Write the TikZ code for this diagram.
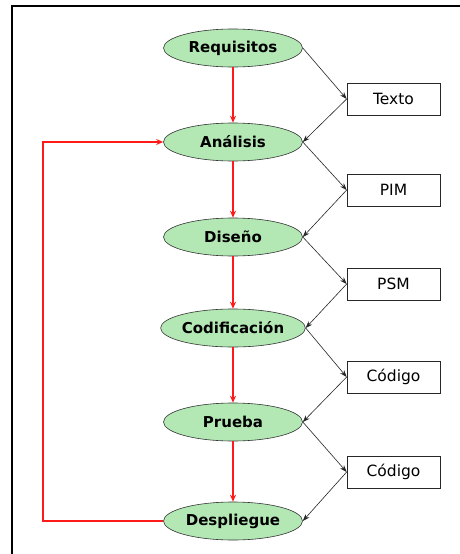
\documentclass[tikz,border=0pt]{standalone}
\usepackage{fontspec}
\setmainfont{DejaVu Sans}
\usetikzlibrary{shapes.geometric,arrows.meta}
\definecolor{phasegreen}{HTML}{B3E8B5}
\definecolor{flowred}{HTML}{FF1A1A}
\tikzset{
  phase/.style={ellipse, draw=black!80, line width=0.6pt, fill=phasegreen,
    minimum width=139pt, minimum height=38pt, inner sep=0pt,
    font=\fontsize{15}{17}\selectfont\bfseries},
  artefact/.style={rectangle, draw=black!85, line width=0.7pt, fill=white,
    minimum width=93pt, minimum height=32pt, inner sep=0pt,
    font=\fontsize{15.5}{18}\selectfont},
  modelflow/.style={draw=black!85, line width=0.6pt, -{Stealth[length=7pt,width=5pt]}},
  phaseflow/.style={draw=flowred, line width=1.4pt, -{Stealth[length=7pt,width=6pt]}},
}
\begin{document}
\begin{tikzpicture}[x=1pt,y=-1pt]
\useasboundingbox (0,0) rectangle (460,554);
\fill[white] (0,0) rectangle (460,554);
% frame
\draw[line width=2pt] (12,554) -- (12,6) -- (460,6);

% phases
\node[phase] (req) at (233,48)  {Requisitos};
\node[phase] (ana) at (233,142) {Análisis};
\node[phase] (dis) at (233,237) {Diseño};
\node[phase] (cod) at (233,328) {Codificación};
\node[phase] (pru) at (233,422) {Prueba};
\node[phase] (des) at (233,521) {Despliegue};

% artefacts
\node[artefact] (t1) at (393.5,99)  {Texto};
\node[artefact] (t2) at (393.5,190) {PIM};
\node[artefact] (t3) at (393.5,284) {PSM};
\node[artefact] (t4) at (393.5,377) {Código};
\node[artefact] (t5) at (393.5,472) {Código};

% sequence of phases
\draw[phaseflow] (req) -- (ana);
\draw[phaseflow] (ana) -- (dis);
\draw[phaseflow] (dis) -- (cod);
\draw[phaseflow] (cod) -- (pru);
\draw[phaseflow] (pru) -- (des);
\coordinate (fbB) at (43,521);
\coordinate (fbT) at (43,142);
\draw[phaseflow] (des.west) -- (fbB) -- (fbT) -- (ana.west);

% model transformations
\foreach \a/\m/\b in {req/t1/ana, ana/t2/dis, dis/t3/cod, cod/t4/pru, pru/t5/des}{
  \draw[modelflow] (\a.east) -- (\m.west);
  \draw[modelflow] (\m.west) -- (\b.east);
}
\end{tikzpicture}
\end{document}
